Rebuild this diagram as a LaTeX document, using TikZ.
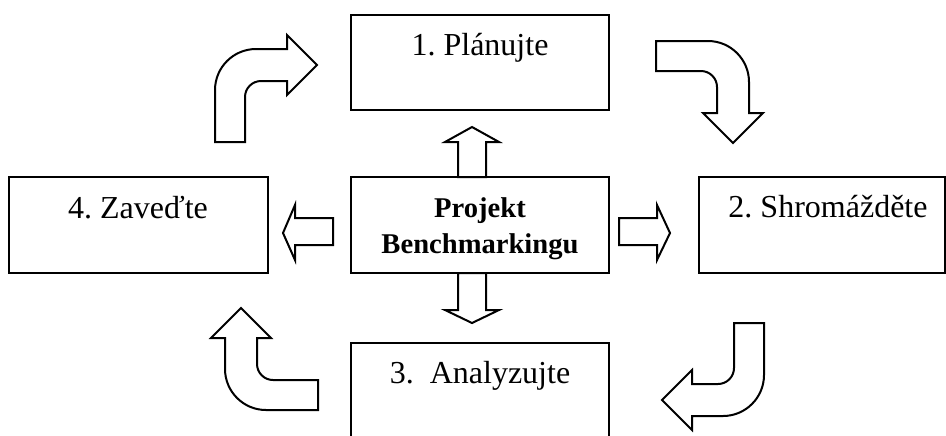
\documentclass[tikz,border=0pt]{standalone}
\usepackage{fontspec}
\setmainfont{Liberation Serif}
\frenchspacing
\begin{document}
\begin{tikzpicture}[x=0.5pt,y=-0.5pt,
  box/.style={draw, line width=1pt, rectangle, inner sep=0pt},
  lbl/.style={font=\fontsize{16}{19}\selectfont, anchor=base, inner sep=0pt},
  blbl/.style={font=\fontsize{14.3}{18}\selectfont\bfseries, anchor=base, inner sep=0pt},
  arr/.style={draw, line width=1pt, line join=miter, fill=white}]
\useasboundingbox (0,0) rectangle (946,435);
\clip (0,0) rectangle (946,435);

% boxes
\node[box, minimum width=129pt, minimum height=47.5pt] (plan) at (480,62.5) {};
\node[box, minimum width=129pt, minimum height=48pt] (core) at (480,225) {};
\node[box, minimum width=129.5pt, minimum height=48pt] (zaved) at (138.5,225) {};
\node[box, minimum width=123pt, minimum height=48pt] (shrom) at (822,225) {};
\node[box, minimum width=129pt, minimum height=68.5pt] (analyz) at (480,411.5) {};

% labels
\node[lbl] (tplan) at (480,55) {1. Plánujte};
\node[lbl] (tzaved) at (138,218) {4. Zaveďte};
\node[lbl] (tshrom) at (828,217) {2. Shromážděte};
\node[lbl] (tanalyz) at (480,383) {3.\ \ Analyzujte};
\node[blbl] (tcore1) at (480,217) {Projekt};
\node[blbl] (tcore2) at (480,253) {Benchmarkingu};

% straight block arrows
\draw[arr] (458,177) -- (458,142) -- (445,142) -- (472,127) -- (499,142) -- (486,142) -- (486,177) -- cycle;
\draw[arr] (458,273) -- (458,310) -- (445,310) -- (472,323) -- (499,310) -- (486,310) -- (486,273) -- cycle;
\draw[arr] (333,218) -- (295,218) -- (295,205) -- (283,233) -- (295,260) -- (295,245) -- (333,245) -- cycle;
\draw[arr] (619,218) -- (657,218) -- (657,205) -- (670,233) -- (657,260) -- (657,245) -- (619,245) -- cycle;

% bent block arrows
\def\mybentarrow{%
  \draw[arr] (0,0) -- (0,-52) .. controls (0,-74.6) and (18.4,-93) .. (41,-93)
    -- (72,-93) -- (72,-107) -- (102,-77) -- (72,-47) -- (72,-61) -- (46,-61)
    .. controls (37.2,-61) and (30,-53.8) .. (30,-45) -- (30,0) -- cycle;}
\begin{scope}[shift={(215,142)}]\mybentarrow\end{scope}
\begin{scope}[shift={(656,41)}, rotate=-90]\mybentarrow\end{scope}
\begin{scope}[shift={(764,323)}, rotate=180]\mybentarrow\end{scope}
\begin{scope}[shift={(318,410)}, rotate=90]\mybentarrow\end{scope}
\end{tikzpicture}
\end{document}
